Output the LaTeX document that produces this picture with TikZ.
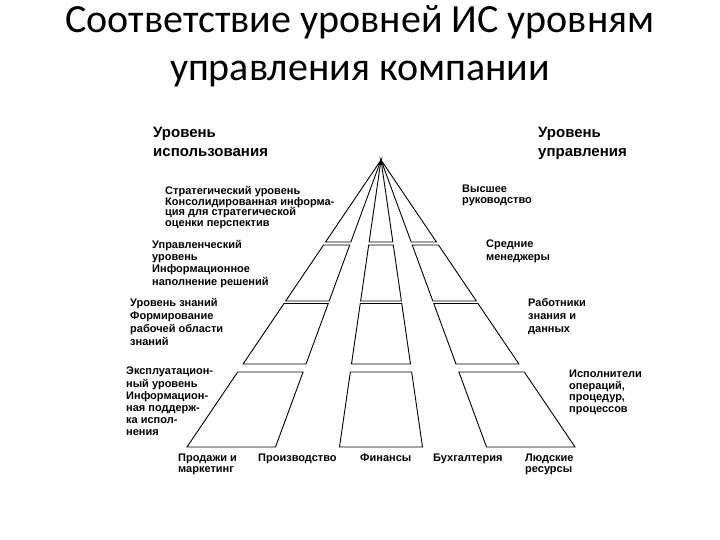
\documentclass[tikz,border=0pt]{standalone}
\usepackage{fontspec}
\setmainfont{Liberation Sans}
\newfontfamily\titlefont{Carlito}
\newcommand{\lblfont}[1]{\fontsize{11}{#1}\selectfont\bfseries}
\begin{document}
\begin{tikzpicture}[x=1pt,y=-1pt,
  cell/.style={draw=black,line width=0.9pt,line join=miter},
  lbl/.style={font=\lblfont{11}, align=left,inner sep=0pt,anchor=north west},
  head/.style={font=\fontsize{15}{19}\selectfont\bfseries,align=left,inner sep=0pt,anchor=north west},
  ttl/.style={font=\titlefont\fontsize{40}{48}\selectfont,inner sep=0pt,anchor=base}]
\useasboundingbox (0,0) rectangle (720,540);
% title
\node[ttl] (t1) at (360,33) {Соответствие уровней ИС уровням};
\node[ttl] (t2) at (360,81) {управления компании};
% pyramid
\foreach \ya/\yb in {160/242, 245/301, 303.5/364, 372/447} {
  \foreach \ka/\kb in {-0.676/-0.3676, -0.1446/0.1446, 0.3676/0.676} {
    \draw[cell] ({381+\ka*(\ya-160)},\ya) -- ({381+\kb*(\ya-160)},\ya)
      -- ({381+\kb*(\yb-160)},\yb) -- ({381+\ka*(\yb-160)},\yb) -- cycle;
  }
}
% headers
\node[head] (hl) at (153,127) {Уровень\\использования};
\node[head] (hr) at (538,127) {Уровень\\управления};
% left labels
\node[lbl,font=\lblfont{10.7}] (l1) at (165,186) {Стратегический уровень\\Консолидированная информа-\\ция для стратегической\\оценки перспектив};
\node[lbl,font=\lblfont{12.3}] (l2) at (152,240) {Управленческий\\уровень\\Информационное\\наполнение решений};
\node[lbl,font=\lblfont{13}] (l3) at (130,298) {Уровень знаний\\Формирование\\рабочей области\\знаний};
\node[lbl,font=\lblfont{12.2}] (l4) at (126,367) {Эксплуатацион-\\ный уровень\\Информацион-\\ная поддерж-\\ка испол-\\нения};
% right labels
\node[lbl] (r1) at (462,185) {Высшее\\руководство};
\node[lbl,font=\lblfont{13}] (r2) at (486,240) {Средние\\менеджеры};
\node[lbl,font=\lblfont{13}] (r3) at (528,298) {Работники\\знания и\\данных};
\node[lbl,font=\lblfont{11.5}] (r4) at (569,370) {Исполнители\\операций,\\процедур,\\процессов};
% bottom labels
\node[lbl,font=\lblfont{10.5}] (b1) at (178,454) {Продажи и\\маркетинг};
\node[lbl] (b2) at (258,454) {Производство};
\node[lbl] (b3) at (360,454) {Финансы};
\node[lbl] (b4) at (433,454) {Бухгалтерия};
\node[lbl,font=\lblfont{10.5}] (b5) at (525,454) {Людские\\ресурсы};
\end{tikzpicture}
\end{document}
